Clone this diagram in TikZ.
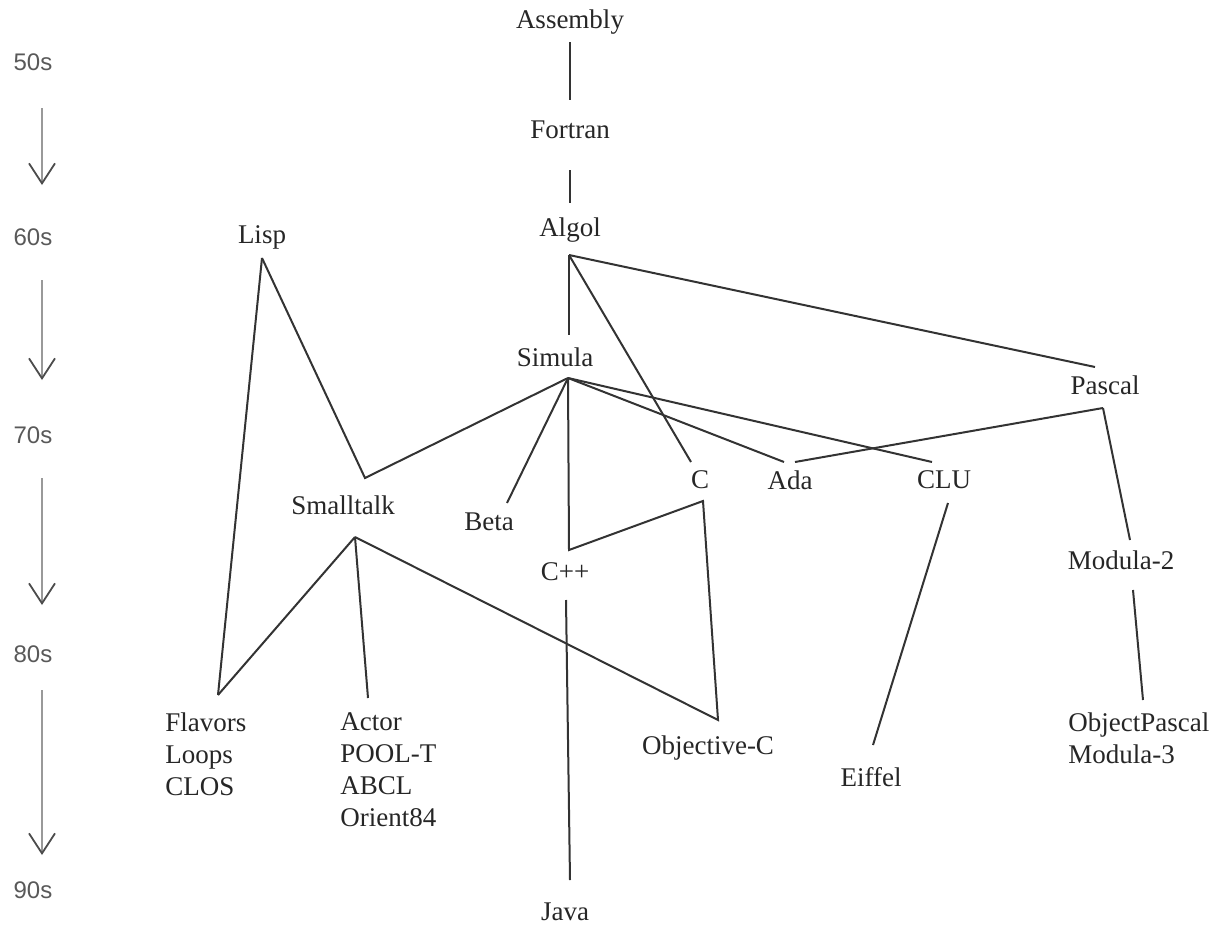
\documentclass[tikz,border=0pt]{standalone}
\usepackage{fontspec}
\setmainfont{Liberation Serif}
\newfontfamily\decadefont{Liberation Sans}
\usetikzlibrary{arrows.meta}

\begin{document}
\begin{tikzpicture}[x=0.5pt,y=-0.5pt,
		lang/.style={text=black!85,font=\fontsize{13.5}{16}\selectfont,inner sep=0pt},
		group/.style={lang,align=left,anchor=north west},
		decade/.style={text=black!65,font=\decadefont\fontsize{12}{14}\selectfont,inner sep=0pt},
		link/.style={draw=black!80,line width=1pt,line join=miter},
		timeline/.style={draw=black!40,line width=0.6pt,-{Straight Barb[length=10pt,width=13pt,line width=0.9pt,color=black!70]}}]
		\useasboundingbox (0,0) rectangle (1216,926);
		% decades on the left
		\node[decade] (d50) at (33,62) {50s};
		\node[decade] (d60) at (33,237) {60s};
		\node[decade] (d70) at (33,435) {70s};
		\node[decade] (d80) at (33,654) {80s};
		\node[decade] (d90) at (33,890) {90s};
		\foreach \name/\ya/\yb in {t50/108/185,t60/280/380,t70/478/605,t80/690/855}{
			\coordinate (\name a) at (42,\ya);
			\coordinate (\name b) at (42,\yb);
			\draw[timeline] (\name a) -- (\name b);
		}
		% languages
		\node[lang] (asm) at (570,22) {Assembly};
		\node[lang] (fortran) at (570,130) {Fortran};
		\node[lang] (algol) at (570,230) {Algol};
		\node[lang] (lisp) at (262,237) {Lisp};
		\node[lang] (simula) at (555,357) {Simula};
		\node[lang] (pascal) at (1105,385) {Pascal};
		\node[lang] (smalltalk) at (343,505) {Smalltalk};
		\node[lang] (beta) at (489,522) {Beta};
		\node[lang] (c) at (700,480) {C};
		\node[lang] (ada) at (790,480) {Ada};
		\node[lang] (clu) at (944,480) {CLU};
		\node[lang] (cpp) at (565,572) {C++};
		\node[lang] (modula2) at (1121,560) {Modula-2};
		\node[group] (flavors) at (165,712) {Flavors\\Loops\\CLOS};
		\node[group] (actor) at (340,712) {Actor\\POOL-T\\ABCL\\Orient84};
		\node[lang] (objc) at (708,748) {Objective-C};
		\node[lang] (eiffel) at (871,777) {Eiffel};
		\node[group] (objpascal) at (1068,712) {ObjectPascal\\Modula-3};
		\node[lang] (java) at (565,912) {Java};
		% end points of the links
		\coordinate (asm b) at (570,42);
		\coordinate (fortran t) at (570,100);
		\coordinate (fortran b) at (570,170);
		\coordinate (algol t) at (570,203);
		\coordinate (algol b) at (569,255);
		\coordinate (simula t) at (569,335);
		\coordinate (simula b) at (568,378);
		\coordinate (lisp b) at (262,258);
		\coordinate (lisp turn) at (365,478);
		\coordinate (pascal t) at (1095,367);
		\coordinate (pascal b) at (1103,408);
		\coordinate (smalltalk b) at (355,537);
		\coordinate (beta t) at (507,503);
		\coordinate (c t) at (691,462);
		\coordinate (c b) at (703,501);
		\coordinate (ada t) at (784,462);
		\coordinate (ada t2) at (795,462);
		\coordinate (clu t) at (932,462);
		\coordinate (clu b) at (948,503);
		\coordinate (cpp t) at (569,550);
		\coordinate (cpp b) at (566,600);
		\coordinate (modula2 t) at (1130,540);
		\coordinate (modula2 b) at (1133,590);
		\coordinate (flavors t) at (218,695);
		\coordinate (actor t) at (368,698);
		\coordinate (objc t) at (718,720);
		\coordinate (eiffel t) at (873,745);
		\coordinate (objpascal t) at (1143,700);
		\coordinate (java t) at (570,880);
		% links
		\draw[link] (asm b) -- (fortran t);
		\draw[link] (fortran b) -- (algol t);
		\draw[link] (algol b) -- (simula t);
		\draw[link] (algol b) -- (c t);
		\draw[link] (algol b) -- (pascal t);
		\draw[link] (lisp b) -- (flavors t);
		\draw[link] (lisp b) -- (lisp turn) -- (simula b);
		\draw[link] (simula b) -- (beta t);
		\draw[link] (simula b) -- (cpp t) -- (c b) -- (objc t) -- (smalltalk b);
		\draw[link] (simula b) -- (ada t);
		\draw[link] (simula b) -- (clu t);
		\draw[link] (pascal b) -- (ada t2);
		\draw[link] (pascal b) -- (modula2 t);
		\draw[link] (smalltalk b) -- (flavors t);
		\draw[link] (smalltalk b) -- (actor t);
		\draw[link] (cpp b) -- (java t);
		\draw[link] (clu b) -- (eiffel t);
		\draw[link] (modula2 b) -- (objpascal t);
	\end{tikzpicture}
\end{document}
